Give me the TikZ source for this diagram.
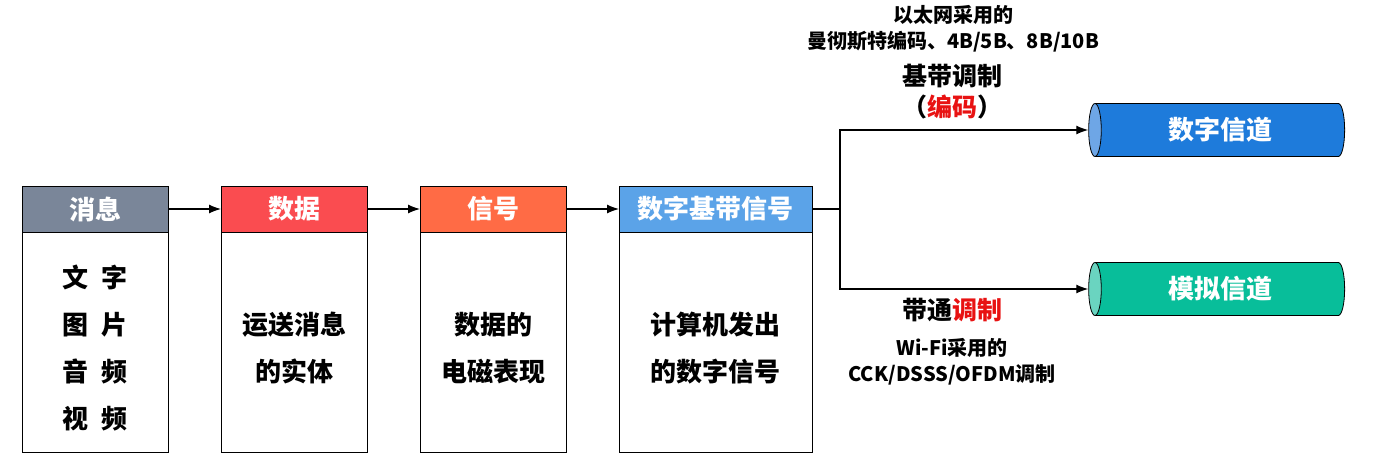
\documentclass[tikz,border=0pt]{standalone}
\usepackage{fontspec}
\setmainfont{Noto Sans CJK SC}
\usetikzlibrary{arrows.meta,positioning,shapes.geometric}
\definecolor{msgGray}{RGB}{122,134,153}
\definecolor{dataRed}{RGB}{250,76,80}
\definecolor{sigOrange}{RGB}{255,107,69}
\definecolor{baseBlue}{RGB}{91,163,232}
\definecolor{chanBlue}{RGB}{30,123,219}
\definecolor{chanBlueEnd}{RGB}{110,166,230}
\definecolor{chanGreen}{RGB}{8,190,154}
\definecolor{chanGreenEnd}{RGB}{106,212,192}
\definecolor{codeRed}{RGB}{232,18,18}
\newcommand\bstrut{\rule{0pt}{17.5pt}}

\begin{document}
\begin{tikzpicture}[x=0.5pt,y=-0.5pt,node distance=26.5pt,
  hd/.style={draw=black,fill=#1,minimum height=23pt,minimum width=73pt,outer sep=0pt,
             inner sep=0pt,text=white,font=\fontsize{13}{15}\selectfont\bfseries},
  bd/.style={draw=black,minimum height=110pt,minimum width=73pt,outer sep=0pt,
             align=center,font=\fontsize{13}{23.5}\selectfont\bfseries},
  chan/.style 2 args={cylinder,shape border rotate=180,draw=black,cylinder uses custom fill,
             cylinder body fill=#1,cylinder end fill=#2,minimum height=128pt,minimum width=26.5pt,
             shape aspect=0.5,inner sep=0pt,text=white,font=\fontsize{13}{15}\selectfont\bfseries},
  lbl/.style={align=center,font=\fontsize{12.5}{15.5}\selectfont\bfseries},
  note/.style={align=center,font=\fontsize{10}{13}\selectfont\bfseries},
  flow/.style={-{Latex[length=6pt,width=4.5pt]},line width=0.6pt}]
  \useasboundingbox (0,0) rectangle (1374,466);
  % headers
  \node[hd=msgGray] (h1) at (95,209) {消息};
  \node[hd=dataRed,right=of h1] (h2) {数据};
  \node[hd=sigOrange,right=of h2] (h3) {信号};
  \node[hd=baseBlue,right=of h3,minimum width=96.5pt] (h4) {数字基带信号};
  % bodies
  \node[bd,below=0pt of h1] (b1) {\bstrut 文\hspace{0.5em}字\\图\hspace{0.5em}片\\音\hspace{0.5em}频\\视\hspace{0.5em}频};
  \node[bd,below=0pt of h2] (b2) {\bstrut 运送消息\\的实体};
  \node[bd,below=0pt of h3] (b3) {\bstrut 数据的\\电磁表现};
  \node[bd,below=0pt of h4,minimum width=96.5pt] (b4) {\bstrut 计算机发出\\的数字信号};
  \draw[flow] (h1) -- (h2);
  \draw[flow] (h2) -- (h3);
  \draw[flow] (h3) -- (h4);
  % channels
  \node[chan={chanBlue}{chanBlueEnd}] (dig) at (1220,130) {数字信道};
  \node[chan={chanGreen}{chanGreenEnd}] (ana) at (1220,289) {模拟信道};
  \coordinate (split) at (840,209);
  \draw[line width=0.6pt] (h4.east) -- (split);
  \draw[flow] (split) |- (dig.west);
  \draw[flow] (split) |- (ana.west);
  % labels
  \node[note] (bbnote) at (953,29) {以太网采用的\\曼彻斯特编码、4B/5B、8B/10B};
  \node[lbl] (bbmod) at (952,92) {基带调制\\（\textcolor{codeRed}{编码}）};
  \node[lbl] (bpmod) at (952,310) {带通\textcolor{codeRed}{调制}};
  \node[note] (bpnote) at (952,362) {Wi-Fi采用的\\CCK/DSSS/OFDM调制};
\end{tikzpicture}
\end{document}
